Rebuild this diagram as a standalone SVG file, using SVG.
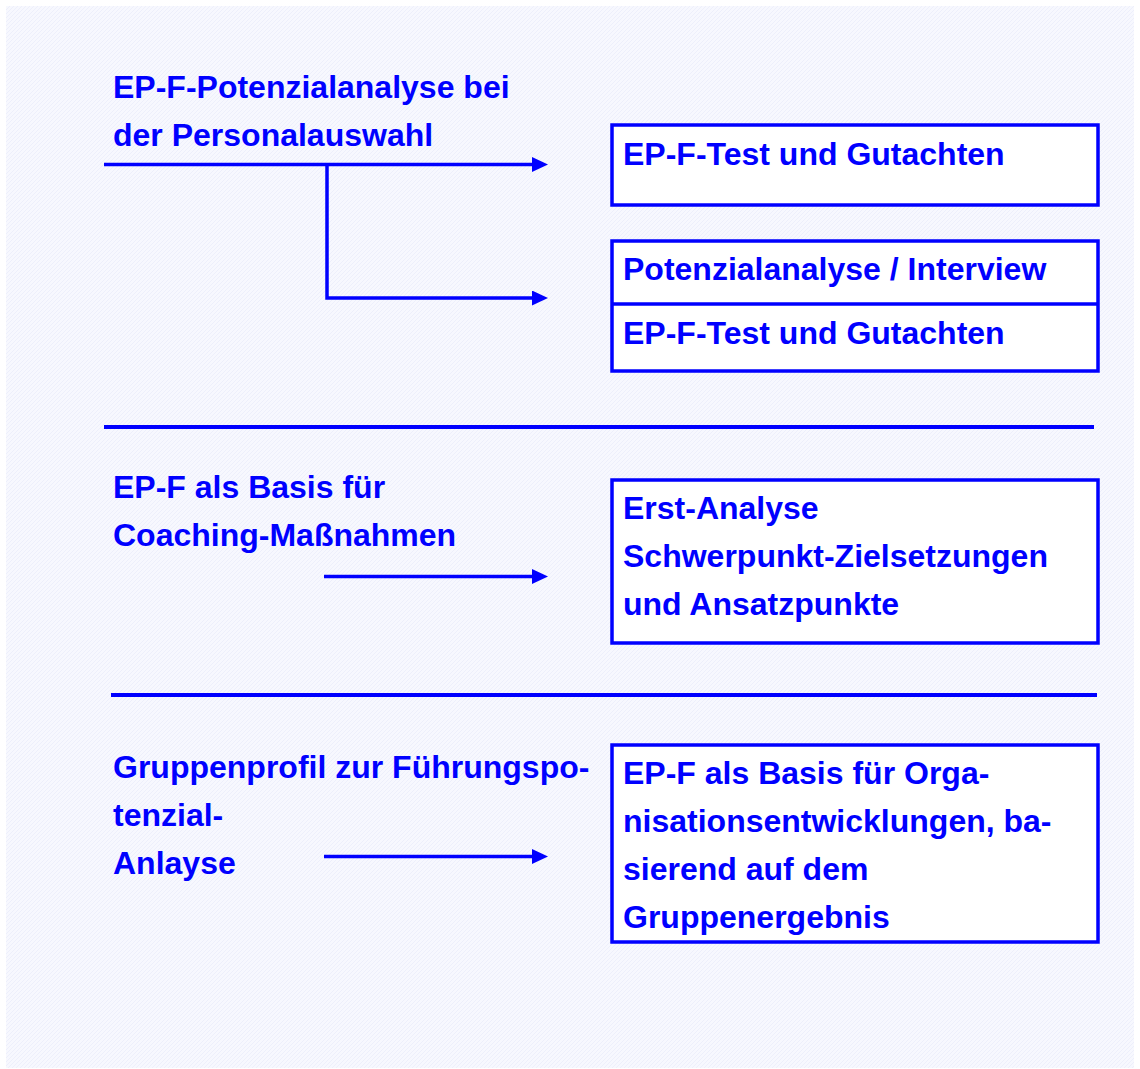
<svg xmlns="http://www.w3.org/2000/svg" width="1140" height="1069" viewBox="0 0 1140 1069">
<style>
.t{font-family:"Liberation Sans",Arial,sans-serif;font-weight:bold;font-size:32px;fill:#0000ff}
.box{fill:#ffffff;stroke:#0000ff;stroke-width:3.5}
.ln{stroke:#0000ff;stroke-width:3.5;fill:none}
.sep{stroke:#0000ff;stroke-width:4;fill:none}
</style>
<defs>
<pattern id="hatch" width="4" height="4" patternUnits="userSpaceOnUse">
<rect width="4" height="4" fill="#f7f8fe"/>
<path d="M0,4 L4,0 M-1,1 L1,-1 M3,5 L5,3" stroke="#edeffb" stroke-width="1"/>
</pattern>
<marker id="ah" markerUnits="userSpaceOnUse" markerWidth="16" markerHeight="15" refX="1" refY="7.5" orient="auto" viewBox="0 0 16 15">
<path d="M0,0 L16,7.5 L0,15 Z" fill="#0000ff"/>
</marker>
</defs>
<rect x="6" y="6" width="1128" height="1062" fill="url(#hatch)"/>

<g id="connectors">
<path class="ln" d="M104,164.5 H533" marker-end="url(#ah)"/>
<path class="ln" d="M327,164.5 V298 H533" marker-end="url(#ah)"/>
<path class="ln" d="M324,576.5 H533" marker-end="url(#ah)"/>
<path class="ln" d="M324,856.5 H533" marker-end="url(#ah)"/>
</g>

<g id="separators">
<line class="sep" x1="104" y1="427" x2="1094" y2="427"/>
<line class="sep" x1="111" y1="695" x2="1097" y2="695"/>
</g>

<g id="label-personalauswahl">
<text class="t" x="113" y="98">EP-F-Potenzialanalyse bei</text>
<text class="t" x="113" y="146">der Personalauswahl</text>
</g>

<g id="box-test1">
<rect class="box" x="612" y="125" width="486" height="80"/>
<text class="t" x="623" y="165">EP-F-Test und Gutachten</text>
</g>

<g id="box-interview">
<rect class="box" x="612" y="241" width="486" height="130"/>
<line class="box" x1="612" y1="304" x2="1098" y2="304"/>
<text class="t" x="623" y="280">Potenzialanalyse / Interview</text>
<text class="t" x="623" y="344">EP-F-Test und Gutachten</text>
</g>

<g id="label-coaching">
<text class="t" x="113" y="498">EP-F als Basis für</text>
<text class="t" x="113" y="546">Coaching-Maßnahmen</text>
</g>

<g id="box-erstanalyse">
<rect class="box" x="612" y="480" width="486" height="163"/>
<text class="t" x="623" y="519">Erst-Analyse</text>
<text class="t" x="623" y="567">Schwerpunkt-Zielsetzungen</text>
<text class="t" x="623" y="615">und Ansatzpunkte</text>
</g>

<g id="label-gruppenprofil">
<text class="t" x="113" y="778">Gruppenprofil zur Führungspo-</text>
<text class="t" x="113" y="826">tenzial-</text>
<text class="t" x="113" y="874">Anlayse</text>
</g>

<g id="box-organisation">
<rect class="box" x="612" y="745" width="486" height="197"/>
<text class="t" x="623" y="784">EP-F als Basis für Orga-</text>
<text class="t" x="623" y="832">nisationsentwicklungen, ba-</text>
<text class="t" x="623" y="880">sierend auf dem</text>
<text class="t" x="623" y="928">Gruppenergebnis</text>
</g>
</svg>
